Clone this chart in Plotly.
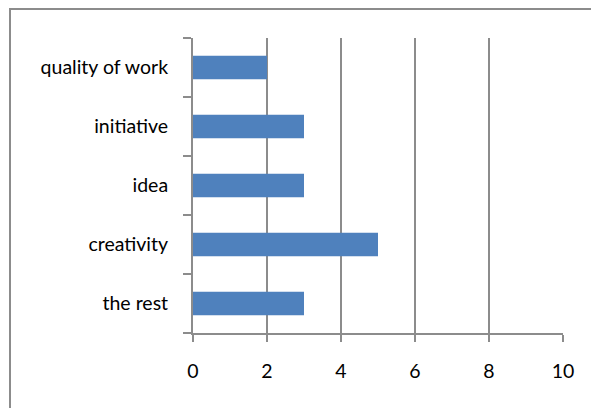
import plotly.graph_objects as go

categories = ["the rest", "creativity", "idea", "initiative", "quality of work"]
values = [3, 5, 3, 3, 2]
x_ticks = [0, 2, 4, 6, 8, 10]

GRID = "#8c8c8c"
BAR = "#4f81bd"
FONT = dict(family="Lato, Open Sans, sans-serif", size=19.5, color="#000000")

fig = go.Figure(go.Bar(
    y=categories, x=values, orientation="h",
    marker=dict(color=BAR, line=dict(width=0)),
))

W, H = 591, 408
L, R, T, B = 193, 28, 38, 75
pw, ph = W - L - R, H - T - B

def px_x(x):
    return (x - L) / pw

def px_y(y):
    return (H - B - y) / ph

fig.update_layout(
    width=W, height=H,
    margin=dict(l=L, r=R, t=T, b=B, pad=0, autoexpand=False),
    paper_bgcolor="white", plot_bgcolor="white",
    bargap=0.6,
    showlegend=False,
    font=FONT,
    xaxis=dict(
        range=[0, 10], tickvals=x_ticks, ticktext=[str(v) for v in x_ticks],
        showgrid=True, gridcolor=GRID, gridwidth=2,
        showline=True, linecolor=GRID, linewidth=2,
        ticks="outside", ticklen=7, tickcolor=GRID, tickwidth=2,
        zeroline=False, ticklabelstandoff=13, fixedrange=True,
    ),
    yaxis=dict(
        categoryorder="array", categoryarray=categories,
        showgrid=False,
        showline=True, linecolor=GRID, linewidth=2,
        ticks="outside", ticklen=8, tickcolor=GRID, tickwidth=2,
        tickson="boundaries", ticklabelstandoff=19, fixedrange=True,
    ),
    shapes=[dict(
        type="rect", xref="paper", yref="paper",
        x0=px_x(10), x1=px_x(596), y0=px_y(413), y1=px_y(9),
        line=dict(color=GRID, width=2), fillcolor="rgba(0,0,0,0)", layer="below",
    )],
)

fig.write_html("out.html", config={"displayModeBar": False},
               post_script="document.body.style.margin='0';")
